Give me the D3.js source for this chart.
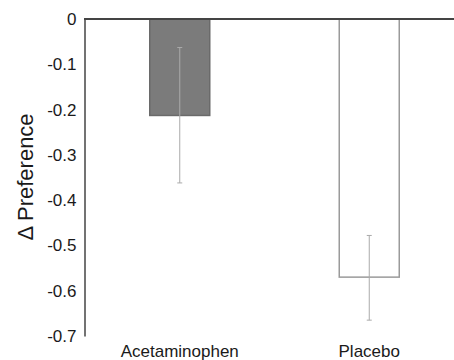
<!DOCTYPE html>
<html>
<head>
<meta charset="utf-8">
<script src="https://cdn.jsdelivr.net/npm/d3@7"></script>
<style>
  body { margin: 0; background: #fff; }
  text { font-family: "Liberation Sans", Arial, sans-serif; fill: #1a1a1a; }
</style>
</head>
<body>
<div id="chart"></div>
<script>
var categories  =   [ 'Acetaminophen', 'Placebo' ];
var means       =   [ -0.213, -0.570 ];
var err_hi      =   [ -0.063, -0.478 ];
var err_lo      =   [ -0.362, -0.665 ];
var y_ticks     =   [ 0, -0.1, -0.2, -0.3, -0.4, -0.5, -0.6, -0.7 ];

var chart_width     =   454;
var chart_height    =   360;
var bar_width       =   60;

var svg = d3.select( '#chart' )
    .append( 'svg' )
    .attr( 'width', chart_width )
    .attr( 'height', chart_height );

// Scales
var x_scale = d3.scalePoint()
    .domain( categories )
    .range([ 85, 464 ])
    .padding( 0.5 );

var y_scale = d3.scaleLinear()
    .domain([ -0.7, 0 ])
    .range([ 336, 19 ]);

// Bars
svg.append( 'g' ).selectAll( 'rect' )
    .data( categories )
    .enter()
    .append( 'rect' )
    .attr( 'x', function( d ) { return x_scale( d ) - bar_width / 2; })
    .attr( 'y', y_scale( 0 ) )
    .attr( 'width', bar_width )
    .attr( 'height', function( d, i ) { return y_scale( means[i] ) - y_scale( 0 ); })
    .attr( 'fill', function( d, i ) { return i === 0 ? '#7b7b7b' : '#fff'; })
    .attr( 'stroke', function( d, i ) { return i === 0 ? '#6a6a6a' : '#9a9a9a'; })
    .attr( 'stroke-width', 1.5 );

// Error bars
var err = svg.append( 'g' ).selectAll( 'g' )
    .data( categories )
    .enter()
    .append( 'g' )
    .attr( 'stroke', '#aaa' )
    .attr( 'stroke-width', 1 );

err.append( 'line' )
    .attr( 'x1', function( d ) { return x_scale( d ); })
    .attr( 'x2', function( d ) { return x_scale( d ); })
    .attr( 'y1', function( d, i ) { return y_scale( err_hi[i] ); })
    .attr( 'y2', function( d, i ) { return y_scale( err_lo[i] ); });

err.append( 'line' )
    .attr( 'x1', function( d ) { return x_scale( d ) - 2.5; })
    .attr( 'x2', function( d ) { return x_scale( d ) + 2.5; })
    .attr( 'y1', function( d, i ) { return y_scale( err_hi[i] ); })
    .attr( 'y2', function( d, i ) { return y_scale( err_hi[i] ); });

err.append( 'line' )
    .attr( 'x1', function( d ) { return x_scale( d ) - 2.5; })
    .attr( 'x2', function( d ) { return x_scale( d ) + 2.5; })
    .attr( 'y1', function( d, i ) { return y_scale( err_lo[i] ); })
    .attr( 'y2', function( d, i ) { return y_scale( err_lo[i] ); });

// Y axis
var y_axis = d3.axisLeft( y_scale )
    .tickValues( y_ticks )
    .tickSize( 0 )
    .tickPadding( 8 )
    .tickFormat( function( d ) { return d === 0 ? '0' : d3.format( '.1f' )( d ).replace( '−', '-' ); });

var y_g = svg.append( 'g' )
    .attr( 'transform', 'translate(84.5,0)' )
    .call( y_axis );
y_g.select( '.domain' ).attr( 'stroke', '#444' ).attr( 'stroke-width', 1.5 );
y_g.selectAll( 'text' ).attr( 'font-size', 17 ).attr( 'font-family', null );

// Top axis line at zero
svg.append( 'line' )
    .attr( 'x1', 84 )
    .attr( 'x2', chart_width )
    .attr( 'y1', y_scale( 0 ) )
    .attr( 'y2', y_scale( 0 ) )
    .attr( 'stroke', '#444' )
    .attr( 'stroke-width', 2 );

// Category labels
svg.append( 'g' ).selectAll( 'text' )
    .data( categories )
    .enter()
    .append( 'text' )
    .attr( 'x', function( d ) { return x_scale( d ); })
    .attr( 'y', 357 )
    .attr( 'text-anchor', 'middle' )
    .attr( 'font-size', 17 )
    .text( function( d ) { return d; });

// Y label
svg.append( 'text' )
    .attr( 'transform', 'translate(33,177) rotate(-90)' )
    .attr( 'text-anchor', 'middle' )
    .attr( 'font-size', 22 )
    .text( 'Δ Preference' );
</script>
</body>
</html>
